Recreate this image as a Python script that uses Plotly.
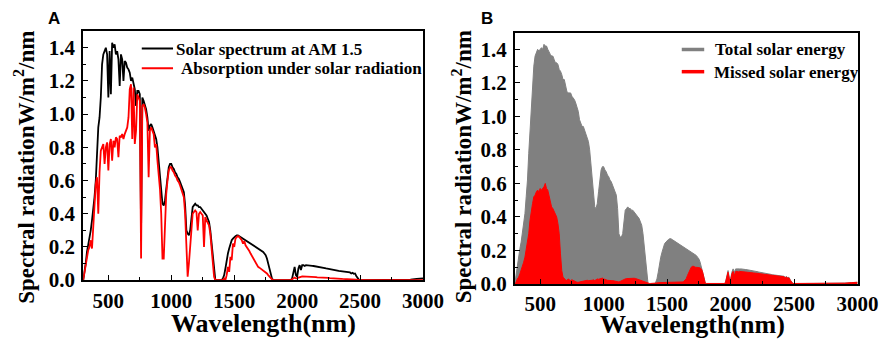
import plotly.graph_objects as go

# ---------------- data ----------------
# wavelength grid (nm): 300..2500 every 10 nm, then 2550..3000 every 50 nm
wavelength = list(range(300, 2510, 10)) + list(range(2550, 3050, 50))

# Solar spectrum at AM 1.5 (panel A, black)
solar_am15 = [
    0.00, 0.04, 0.10, 0.17, 0.21, 0.25, 0.30, 0.36, 0.42, 0.50,   # 300s
    0.60, 0.78, 0.92, 0.98, 1.10, 1.30, 1.36, 1.38, 1.40, 1.36,   # 400s
    1.10, 1.38, 1.12, 1.43, 1.40, 1.42, 1.36, 1.38, 1.33, 1.17,   # 500s
    1.36, 1.33, 1.20, 1.32, 1.31, 1.28, 1.27, 1.25, 1.20, 1.22,   # 600s
    1.18, 1.15, 1.05, 1.14, 1.14, 1.12, 0.30, 1.10, 1.08, 1.06,   # 700s
    1.03, 0.98, 0.90, 0.93, 0.94, 0.92, 0.90, 0.88, 0.85, 0.80,   # 800s
    0.72, 0.62, 0.55, 0.46, 0.45, 0.48, 0.55, 0.62, 0.68, 0.70,   # 900s
    0.70, 0.68, 0.67, 0.65, 0.64, 0.62, 0.61, 0.59, 0.57, 0.55,   # 1000s
    0.53, 0.45, 0.30, 0.28, 0.27, 0.30, 0.38, 0.44, 0.45, 0.46,   # 1100s
    0.45, 0.45, 0.44, 0.44, 0.43, 0.42, 0.41, 0.40, 0.39, 0.37,   # 1200s
    0.35, 0.30, 0.22, 0.12, 0.04, 0.00, 0.00, 0.00, 0.00, 0.00,   # 1300s
    0.00, 0.01, 0.03, 0.07, 0.12, 0.16, 0.19, 0.22, 0.24, 0.25,   # 1400s
    0.26, 0.265, 0.27, 0.27, 0.265, 0.26, 0.255, 0.25, 0.245, 0.24,  # 1500s
    0.235, 0.23, 0.225, 0.22, 0.215, 0.21, 0.21, 0.20, 0.20, 0.195,  # 1600s
    0.19, 0.185, 0.18, 0.17, 0.16, 0.15, 0.13, 0.10, 0.06, 0.03,  # 1700s
    0.01, 0.00, 0.00, 0.00, 0.00, 0.00, 0.00, 0.00, 0.00, 0.00,   # 1800s
    0.00, 0.00, 0.00, 0.00, 0.00, 0.00, 0.01, 0.05, 0.08, 0.03,   # 1900s
    0.02, 0.07, 0.09, 0.06, 0.09, 0.09, 0.085, 0.09, 0.09, 0.09,  # 2000s
    0.088, 0.087, 0.086, 0.085, 0.084, 0.082, 0.080, 0.079, 0.078, 0.076,  # 2100s
    0.075, 0.074, 0.072, 0.070, 0.069, 0.068, 0.066, 0.065, 0.063, 0.062,  # 2200s
    0.060, 0.058, 0.057, 0.055, 0.054, 0.052, 0.050, 0.049, 0.050, 0.045,  # 2300s
    0.047, 0.043, 0.046, 0.040, 0.044, 0.038, 0.040, 0.025, 0.010, 0.003,  # 2400s
    0.00,                                                         # 2500
    0.00, 0.00, 0.00, 0.00, 0.00, 0.00, 0.00, 0.003, 0.008, 0.01,  # 2550..3000
]

# Absorption under solar radiation (panel A, red)
absorption = [
    0.00, 0.05, 0.10, 0.13, 0.18, 0.20, 0.24, 0.19, 0.30, 0.45,
    0.58, 0.62, 0.40, 0.65, 0.78, 0.80, 0.82, 0.70, 0.80, 0.83,
    0.66, 0.82, 0.85, 0.72, 0.84, 0.80, 0.86, 0.85, 0.74, 0.87,
    0.86, 0.88, 0.85, 0.88, 0.90, 0.92, 0.98, 1.15, 1.18, 0.85,
    1.16, 0.82, 0.90, 1.12, 1.10, 1.08, 0.13, 1.05, 1.06, 1.04,
    1.00, 0.95, 0.62, 0.90, 0.92, 0.90, 0.88, 0.80, 0.82, 0.72,
    0.65, 0.55, 0.40, 0.13, 0.13, 0.40, 0.52, 0.60, 0.66, 0.68,
    0.68, 0.66, 0.65, 0.63, 0.62, 0.60, 0.59, 0.57, 0.55, 0.53,
    0.50, 0.40, 0.15, 0.02, 0.10, 0.20, 0.32, 0.40, 0.41, 0.42,
    0.41, 0.30, 0.40, 0.41, 0.40, 0.39, 0.20, 0.38, 0.36, 0.34,
    0.33, 0.28, 0.20, 0.10, 0.02, 0.00, 0.00, 0.00, 0.00, 0.00,
    0.00, 0.00, 0.01, 0.00, 0.03, 0.08, 0.05, 0.14, 0.12, 0.22,
    0.20, 0.25, 0.26, 0.265, 0.26, 0.25, 0.24, 0.22, 0.235, 0.21,
    0.20, 0.19, 0.175, 0.16, 0.145, 0.13, 0.115, 0.10, 0.09, 0.08,
    0.075, 0.07, 0.065, 0.06, 0.05, 0.045, 0.04, 0.03, 0.02, 0.01,
    0.005, 0.00, 0.00, 0.00, 0.00, 0.00, 0.00, 0.00, 0.00, 0.00,
    0.00, 0.00, 0.00, 0.00, 0.00, 0.00, 0.005, 0.01, 0.015, 0.01,
    0.01, 0.015, 0.02, 0.02, 0.022, 0.022, 0.022, 0.021, 0.021, 0.021,
    0.020, 0.020, 0.019, 0.019, 0.018, 0.018, 0.017, 0.017, 0.016, 0.016,
    0.015, 0.015, 0.014, 0.014, 0.013, 0.013, 0.012, 0.012, 0.011, 0.011,
    0.010, 0.010, 0.009, 0.009, 0.008, 0.008, 0.007, 0.007, 0.007, 0.006,
    0.006, 0.006, 0.005, 0.005, 0.005, 0.004, 0.004, 0.003, 0.002, 0.001,
    0.00,
    0.00, 0.00, 0.00, 0.00, 0.00, 0.00, 0.00, 0.00, 0.00, 0.00,
]

# Total solar energy (panel B, grey area)
total_energy = [
    0.00, 0.06, 0.12, 0.17, 0.21, 0.25, 0.30, 0.36, 0.42, 0.52,
    0.62, 0.78, 0.92, 1.00, 1.12, 1.30, 1.36, 1.38, 1.40, 1.39,
    1.40, 1.41, 1.40, 1.43, 1.42, 1.42, 1.40, 1.38, 1.37, 1.36,
    1.36, 1.34, 1.32, 1.32, 1.31, 1.28, 1.27, 1.25, 1.22, 1.22,
    1.18, 1.15, 1.14, 1.14, 1.14, 1.12, 1.11, 1.10, 1.08, 1.06,
    1.03, 0.98, 0.96, 0.94, 0.94, 0.92, 0.90, 0.88, 0.85, 0.80,
    0.72, 0.62, 0.55, 0.46, 0.45, 0.48, 0.55, 0.62, 0.68, 0.70,
    0.70, 0.68, 0.67, 0.65, 0.64, 0.62, 0.61, 0.59, 0.57, 0.55,
    0.53, 0.45, 0.30, 0.28, 0.28, 0.30, 0.38, 0.44, 0.45, 0.46,
    0.45, 0.45, 0.44, 0.44, 0.43, 0.42, 0.41, 0.40, 0.39, 0.37,
    0.35, 0.30, 0.22, 0.12, 0.04, 0.00, 0.00, 0.00, 0.00, 0.00,
    0.00, 0.01, 0.03, 0.07, 0.12, 0.16, 0.19, 0.22, 0.24, 0.25,
    0.26, 0.265, 0.27, 0.27, 0.265, 0.26, 0.255, 0.25, 0.245, 0.24,
    0.235, 0.23, 0.225, 0.22, 0.215, 0.21, 0.21, 0.20, 0.20, 0.195,
    0.19, 0.185, 0.18, 0.17, 0.16, 0.15, 0.13, 0.10, 0.06, 0.03,
    0.01, 0.00, 0.00, 0.00, 0.00, 0.00, 0.00, 0.00, 0.00, 0.00,
    0.00, 0.00, 0.00, 0.00, 0.00, 0.00, 0.01, 0.05, 0.08, 0.04,
    0.03, 0.07, 0.09, 0.07, 0.09, 0.09, 0.088, 0.09, 0.09, 0.09,
    0.088, 0.087, 0.086, 0.085, 0.084, 0.082, 0.080, 0.079, 0.078, 0.076,
    0.075, 0.074, 0.072, 0.070, 0.069, 0.068, 0.066, 0.065, 0.063, 0.062,
    0.060, 0.058, 0.057, 0.055, 0.054, 0.052, 0.050, 0.049, 0.050, 0.045,
    0.047, 0.043, 0.046, 0.040, 0.044, 0.038, 0.040, 0.025, 0.010, 0.003,
    0.00,
    0.003, 0.003, 0.003, 0.003, 0.003, 0.003, 0.003, 0.005, 0.008, 0.01,
]

# Missed solar energy (panel B, red area)
missed_energy = [
    0.00, 0.01, 0.03, 0.04, 0.06, 0.08, 0.10, 0.13, 0.16, 0.20,
    0.24, 0.30, 0.38, 0.44, 0.48, 0.52, 0.53, 0.55, 0.56, 0.55,
    0.57, 0.56, 0.57, 0.58, 0.60, 0.57, 0.56, 0.52, 0.48, 0.46,
    0.45, 0.43, 0.41, 0.40, 0.36, 0.30, 0.18, 0.08, 0.04, 0.03,
    0.025, 0.02, 0.03, 0.025, 0.02, 0.025, 0.02, 0.015, 0.01, 0.01,
    0.010, 0.012, 0.015, 0.015, 0.018, 0.020, 0.020, 0.022, 0.020, 0.020,
    0.020, 0.022, 0.025, 0.020, 0.025, 0.030, 0.028, 0.030, 0.030, 0.035,
    0.030, 0.025, 0.025, 0.022, 0.020, 0.020, 0.020, 0.020, 0.018, 0.015,
    0.015, 0.012, 0.012, 0.015, 0.020, 0.025, 0.030, 0.030, 0.032, 0.033,
    0.033, 0.034, 0.035, 0.035, 0.034, 0.033, 0.030, 0.028, 0.025, 0.022,
    0.020, 0.018, 0.015, 0.012, 0.008, 0.005, 0.003, 0.003, 0.003, 0.003,
    0.003, 0.005, 0.006, 0.008, 0.008, 0.008, 0.010, 0.010, 0.010, 0.010,
    0.010, 0.010, 0.010, 0.010, 0.010, 0.012, 0.012, 0.012, 0.010, 0.010,
    0.010, 0.010, 0.012, 0.015, 0.020, 0.030, 0.050, 0.070, 0.090, 0.100,
    0.105, 0.105, 0.100, 0.100, 0.100, 0.098, 0.095, 0.090, 0.070, 0.030,
    0.005, 0.003, 0.003, 0.003, 0.003, 0.003, 0.003, 0.003, 0.003, 0.003,
    0.003, 0.003, 0.003, 0.003, 0.003, 0.003, 0.010, 0.045, 0.070, 0.030,
    0.020, 0.060, 0.075, 0.050, 0.075, 0.075, 0.072, 0.075, 0.075, 0.074,
    0.073, 0.072, 0.071, 0.070, 0.070, 0.069, 0.068, 0.067, 0.066, 0.065,
    0.064, 0.063, 0.062, 0.061, 0.060, 0.059, 0.058, 0.057, 0.056, 0.055,
    0.054, 0.053, 0.052, 0.051, 0.050, 0.049, 0.047, 0.046, 0.047, 0.043,
    0.044, 0.040, 0.043, 0.037, 0.041, 0.035, 0.036, 0.022, 0.008, 0.003,
    0.003,
    0.003, 0.003, 0.003, 0.003, 0.003, 0.003, 0.003, 0.005, 0.008, 0.01,
]

x_ticks = [500, 1000, 1500, 2000, 2500, 3000]
y_ticks = [0.0, 0.2, 0.4, 0.6, 0.8, 1.0, 1.2, 1.4]

legend_a = ["Solar spectrum at AM 1.5", "Absorption under solar radiation"]
legend_b = ["Total solar energy", "Missed solar energy"]

# ---------------- styling ----------------
SERIF = "Liberation Serif"
RED = "#ff0000"
GREY = "#808080"
W, H = 892, 342

fig = go.Figure()

# Panel A
fig.add_trace(go.Scatter(x=wavelength, y=solar_am15, mode="lines",
                         line=dict(color="black", width=1.8),
                         name=legend_a[0], showlegend=False,
                         xaxis="x", yaxis="y"))
fig.add_trace(go.Scatter(x=wavelength, y=absorption, mode="lines",
                         line=dict(color=RED, width=1.8),
                         name=legend_a[1], showlegend=False,
                         xaxis="x", yaxis="y"))

# Panel B
fig.add_trace(go.Scatter(x=wavelength, y=total_energy, mode="lines",
                         fill="tozeroy", fillcolor=GREY,
                         line=dict(color=GREY, width=1),
                         name=legend_b[0], showlegend=False,
                         xaxis="x2", yaxis="y2"))
fig.add_trace(go.Scatter(x=wavelength, y=missed_energy, mode="lines",
                         fill="tozeroy", fillcolor=RED,
                         line=dict(color=RED, width=1),
                         name=legend_b[1], showlegend=False,
                         xaxis="x2", yaxis="y2"))

tickfont = dict(family=SERIF, size=21, color="black", weight="bold")

def xaxis(domain, anchor, standoff):
    return dict(domain=domain, anchor=anchor, range=[300, 3000],
                tickvals=x_ticks, ticks="inside", ticklen=5, tickwidth=1.3,
                tickcolor="black", showline=True, linecolor="black",
                linewidth=1.8, mirror=True, showgrid=False, zeroline=False,
                tickfont=tickfont, ticklabelstandoff=standoff,
                minor=dict(dtick=250, tick0=0, ticks="inside", ticklen=3,
                           tickwidth=1, tickcolor="black", showgrid=False))

def yaxis(domain, anchor):
    return dict(domain=domain, anchor=anchor, range=[0, 1.5],
                tickvals=y_ticks, tickformat=".1f", ticks="inside",
                ticklen=5, tickwidth=1.3, tickcolor="black",
                showline=True, linecolor="black", linewidth=1.8, mirror=True,
                showgrid=False, zeroline=False, tickfont=tickfont,
                ticklabelstandoff=2,
                minor=dict(dtick=0.1, ticks="inside", ticklen=3, tickwidth=1,
                           tickcolor="black", showgrid=False))

fig.update_layout(
    width=W, height=H,
    margin=dict(l=0, r=0, t=0, b=0),
    paper_bgcolor="white", plot_bgcolor="white",
    xaxis=xaxis([77 / W, 425 / W], "y", 1),
    yaxis=yaxis([60 / H, 318 / H], "x"),
    xaxis2=xaxis([519 / W, 870 / W], "y2", 0),
    yaxis2=yaxis([56 / H, 316.5 / H], "x2"),
    showlegend=False,
)

# ---- legends drawn as line samples + text (positions in pixels) ----
def px(x):
    return x / W

def py(y):
    return 1 - y / H

legend_rows = [
    # (line x0, line x1, y, colour, width, text x, text)
    (137, 169, 42, "black", 2, 170, legend_a[0]),
    (137, 169, 62.5, RED, 2, 175, legend_a[1]),
    (690, 713, 43, GREY, 3.5, 722, legend_b[0]),
    (690, 713, 66, RED, 3.5, 721, legend_b[1]),
]
shapes = []
ann = []
for x0, x1, y, col, lw, tx, txt in legend_rows:
    shapes.append(dict(type="line", xref="paper", yref="paper",
                       x0=px(x0), x1=px(x1), y0=py(y), y1=py(y),
                       line=dict(color=col, width=lw)))
    ann.append(dict(text=txt, x=px(tx), y=py(y + 0.5), xanchor="left",
                    font=dict(family=SERIF, size=17, color="black", weight="bold")))

title_font = dict(family=SERIF, color="black", weight="bold")
ann += [
    dict(text="Spectral radiationW/m<sup>2</sup>/nm", x=px(17), y=py(165),
         textangle=-90, font=dict(size=23, **title_font)),
    dict(text="Wavelength(nm)", x=px(262), y=py(327),
         font=dict(size=26, **title_font)),
    dict(text="Spectral radiationW/m<sup>2</sup>/nm", x=px(465), y=py(165),
         textangle=-90, font=dict(size=23, **title_font)),
    dict(text="Wavelength(nm)", x=px(701), y=py(328),
         font=dict(size=26, **title_font)),
    dict(text="A", x=px(47.5), y=py(11),
         font=dict(family="Liberation Sans", size=17, color="black", weight="bold")),
    dict(text="B", x=px(491), y=py(11),
         font=dict(family="Liberation Sans", size=17, color="black", weight="bold")),
]
full_ann = []
for a in ann:
    d = dict(xref="paper", yref="paper", showarrow=False,
             xanchor="center", yanchor="middle")
    d.update(a)
    full_ann.append(d)
fig.update_layout(annotations=full_ann, shapes=shapes)

fig.write_html("out.html")
